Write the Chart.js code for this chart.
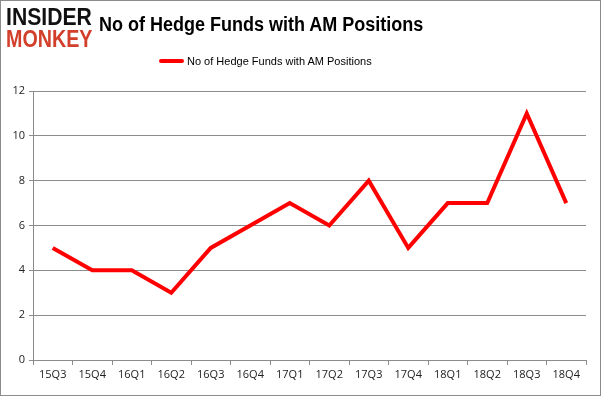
<!DOCTYPE html>
<html lang="en">
<head>
<meta charset="UTF-8" />
<title>No of Hedge Funds with AM Positions</title>
<script src="https://cdn.jsdelivr.net/npm/chart.js"></script>
<style>
  html, body { margin: 0; padding: 0; background: #fff; }
  #wrap { position: relative; width: 601px; height: 396px; box-sizing: border-box; border: 1px solid #8c8c8c; overflow: hidden; }
  #logo { position: absolute; left: 5px; top: 5px; font-family: "Liberation Sans", sans-serif; font-weight: bold; line-height: 22px; }
  #logo div { transform-origin: left top; white-space: nowrap; }
  #logo .a { color: #111; font-size: 23px; transform: scaleX(0.92); }
  #logo .b { color: #d2402c; font-size: 24px; transform: scaleX(0.82); }
  #title { position: absolute; left: 98px; top: 12px; font-family: "Liberation Sans", sans-serif; font-weight: bold; font-size: 20px; color: #000; transform: scaleX(0.9); transform-origin: left top; }
  #legend { position: absolute; left: 158px; top: 54px; font-family: "Liberation Sans", sans-serif; font-size: 11px; color: #000; display: flex; align-items: center; }
  #legend span.sw { display: inline-block; width: 25px; height: 4px; background: #ff0000; border-radius: 2px; margin-right: 3px; }
  canvas { position: absolute; left: 0; top: 0; }
</style>
</head>
<body>
<div id="wrap">
  <canvas id="chart" width="599" height="394"></canvas>
  <div id="logo"><div class="a">INSIDER</div><div class="b">MONKEY</div></div>
  <div id="title">No of Hedge Funds with AM Positions</div>
  <div id="legend"><span class="sw"></span>No of Hedge Funds with AM Positions</div>
</div>
<script>
  // данные
  const quarters = ['15Q3', '15Q4', '16Q1', '16Q2', '16Q3', '16Q4', '17Q1', '17Q2', '17Q3', '17Q4', '18Q1', '18Q2', '18Q3', '18Q4'];
  const funds = [5, 4, 4, 3, 5, 6, 7, 6, 8, 5, 7, 7, 11, 7];
  const yTicks = [0, 2, 4, 6, 8, 10, 12];

  const ctx = document.getElementById('chart').getContext('2d');
  new Chart(ctx, {
    type: 'line',
    data: {
      labels: quarters,
      datasets: [{
        label: 'No of Hedge Funds with AM Positions',
        data: funds,
        borderColor: '#ff0000',
        borderWidth: 4,
        pointRadius: 0,
        tension: 0
      }]
    },
    options: {
      responsive: false,
      animation: false,
      layout: { padding: { left: 0, right: 14, top: 90, bottom: 0 } },
      plugins: {
        legend: { display: false },
        tooltip: { enabled: false }
      },
      scales: {
        x: {
          offset: true,
          grid: { offset: true, drawOnChartArea: false, drawTicks: true, tickLength: 5, color: '#8c8c8c' },
          border: { color: '#8c8c8c' },
          ticks: { color: '#222', font: { family: 'Open Sans', size: 11 }, maxRotation: 0, padding: 3 },
          afterFit: s => { s.height = 35; }
        },
        y: {
          min: 0,
          max: 12,
          afterBuildTicks: s => { s.ticks = yTicks.map(v => ({ value: v })); },
          grid: { color: '#8c8c8c', tickLength: 4 },
          border: { color: '#8c8c8c' },
          ticks: { color: '#222', font: { family: 'Open Sans', size: 11 }, padding: 4 },
          afterFit: s => { s.width = 32; }
        }
      }
    }
  });
</script>
</body>
</html>
